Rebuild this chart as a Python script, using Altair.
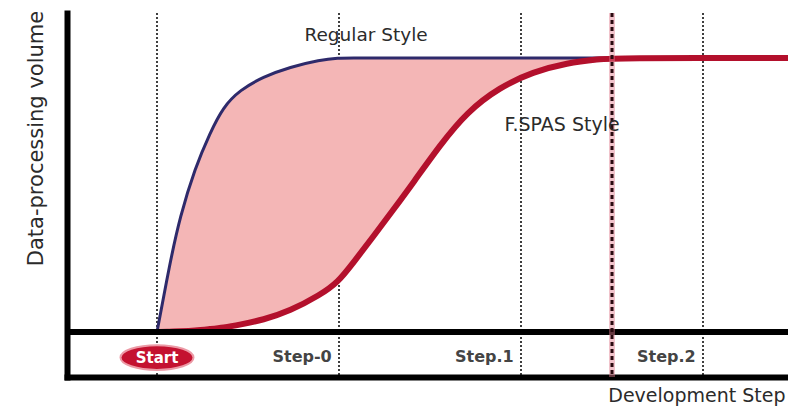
import altair as alt
import pandas as pd

FONT = "DejaVu Sans"
TXT = "#2b2b2b"

# Development axis: Start = 0, step boundaries 1, 2, 3; milestone at 2.5
step_bounds = [0, 1, 2, 3]
milestone = [2.5]
step_labels = ["Step-0", "Step.1", "Step.2"]
step_label_x = [0.96, 1.96, 2.96]

# Curves (volume in % of plateau)
x_pos = [0, 0.071, 0.126, 0.209, 0.291, 0.363, 0.456, 0.582, 0.731, 0.896, 0.995,
         1.077, 1.187, 1.297, 1.407, 1.555, 1.703, 1.885, 2.066, 2.253, 2.434, 2.505, 3.467]
regular = [0, 25.2, 42, 59.9, 72.6, 82.1, 88.3, 93.1, 96.7, 99.3, 100,
           100, 100, 100, 100, 100, 100, 100, 100, 100, 100, 100, 100]
fspas = [0, 0.1, 0.25, 0.5, 1.1, 1.6, 2.7, 4.4, 7.7, 13.5, 18.2,
         25.2, 34.7, 44.5, 54.4, 68.2, 80.3, 89.4, 94.9, 98.2, 99.6, 100, 100]

curve_labels = ["Regular Style", "F.SPAS Style"]
curve_label_x = [0.81, 1.91]
curve_label_y = [108.4, 75.5]
curve_label_size = [18.5, 19]

curve_df = pd.DataFrame({"x": x_pos, "regular": regular, "fspas": fspas})
bounds_df = pd.DataFrame({"x": step_bounds})
mile_df = pd.DataFrame({"x": milestone})
base_df = pd.DataFrame({"y": [0]})
clabel_df = pd.DataFrame({"x": curve_label_x, "y": curve_label_y, "text": curve_labels,
                          "size": curve_label_size})
slabel_df = pd.DataFrame({"x": step_label_x, "y": [-9.1] * 3, "text": step_labels})
start_df = pd.DataFrame({"x": [0], "y": [-9.3], "text": ["Start"]})

xs = alt.Scale(domain=[-0.4945, 3.467], nice=False, zero=False)
ys = alt.Scale(domain=[-16.4, 116.4], nice=False, zero=False)

x_axis = alt.Axis(title="Development Step", labels=False, ticks=False, grid=False,
                  domainWidth=6, domainColor="black", domainCap="square",
                  titleX=718, titleY=24, titleAlign="right", titleBaseline="alphabetic",
                  titleFontSize=19, titleFontWeight="normal", titleColor=TXT, titleFont=FONT)
y_axis = alt.Axis(title="Data-processing volume", labels=False, ticks=False, grid=False,
                  domainWidth=6, domainColor="black", domainCap="square",
                  titleX=-31, titleY=125, titleAngle=270, titleAlign="center",
                  titleBaseline="middle", titleFontSize=21, titleFontWeight="normal",
                  titleColor=TXT, titleFont=FONT)

rules = alt.Chart(bounds_df).mark_rule(color="black", strokeWidth=1.5, strokeDash=[2, 2]).encode(
    x=alt.X("x:Q", scale=xs, axis=x_axis)
)

area = alt.Chart(curve_df).mark_area(interpolate="basis", color="#f4b6b6", opacity=1).encode(
    x=alt.X("x:Q", scale=xs),
    y=alt.Y("regular:Q", scale=ys, axis=y_axis),
    y2="fspas:Q",
)

blue = alt.Chart(curve_df).mark_line(interpolate="basis", color="#2e2a6b", strokeWidth=3).encode(
    x=alt.X("x:Q", scale=xs), y=alt.Y("regular:Q", scale=ys)
)
red = alt.Chart(curve_df).mark_line(interpolate="basis", color="#b3102c", strokeWidth=6).encode(
    x=alt.X("x:Q", scale=xs), y=alt.Y("fspas:Q", scale=ys)
)

baseline = alt.Chart(base_df).mark_rule(color="black", strokeWidth=6).encode(
    y=alt.Y("y:Q", scale=ys)
)

mile_glow = alt.Chart(mile_df).mark_rule(color="#e07a8c", strokeWidth=6, opacity=0.45).encode(
    x=alt.X("x:Q", scale=xs)
)
mile_dash = alt.Chart(mile_df).mark_rule(color="#2a0a10", strokeWidth=3, strokeDash=[4, 3]).encode(
    x=alt.X("x:Q", scale=xs)
)

clabels = alt.Chart(clabel_df).mark_text(align="left", baseline="middle", font=FONT,
                                        color=TXT).encode(
    x=alt.X("x:Q", scale=xs), y=alt.Y("y:Q", scale=ys), text="text:N",
    size=alt.Size("size:Q", scale=None, legend=None),
)
slabels = alt.Chart(slabel_df).mark_text(align="right", baseline="middle", font=FONT,
                                        fontSize=16, fontWeight="bold", color="#444444").encode(
    x=alt.X("x:Q", scale=xs), y=alt.Y("y:Q", scale=ys), text="text:N"
)

ellipse_path = ("M -1 0 C -1 -0.188 -0.552 -0.34 0 -0.34 C 0.552 -0.34 1 -0.188 1 0 "
                "C 1 0.188 0.552 0.34 0 0.34 C -0.552 0.34 -1 0.188 -1 0 Z")
start_badge = alt.Chart(start_df).mark_point(shape=ellipse_path, filled=True, size=5329,
                                             fill="#c41230", stroke="#ec9aa6", strokeWidth=2,
                                             opacity=1).encode(
    x=alt.X("x:Q", scale=xs), y=alt.Y("y:Q", scale=ys)
)
start_text = alt.Chart(start_df).mark_text(align="center", baseline="middle", font=FONT,
                                           fontSize=15, fontWeight="bold", color="white").encode(
    x=alt.X("x:Q", scale=xs), y=alt.Y("y:Q", scale=ys), text="text:N"
)

chart = alt.layer(
    rules, area, blue, red, baseline, mile_glow, mile_dash,
    clabels, slabels, start_badge, start_text
).properties(
    width=721, height=364,
    padding={"left": 59, "top": 5, "right": 0, "bottom": 29},
    autosize=alt.AutoSizeParams(type="none"),
    background="white",
).configure_view(stroke=None)

chart.save("out.html", embed_options={"renderer": "svg", "actions": False})
